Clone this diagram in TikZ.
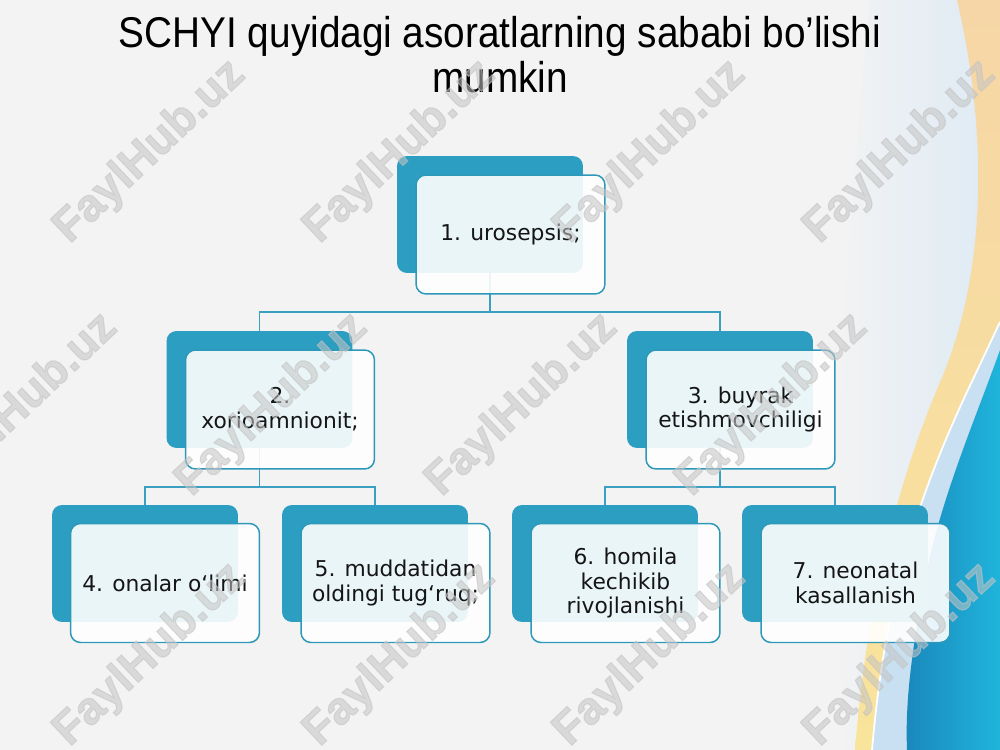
\documentclass[tikz,border=0pt]{standalone}
\usepackage{fontspec}
\setmainfont{DejaVu Sans}
\newfontfamily\titlefont[FakeStretch=0.9]{Liberation Sans}
\newfontfamily\wmfont[BoldFeatures={FakeBold=2.5}]{Liberation Sans}
\definecolor{bgc}{HTML}{F3F3F3}
\definecolor{backc}{HTML}{2C9EC1}
\definecolor{edgec}{HTML}{2E98B9}
\definecolor{linec}{HTML}{3A9FC0}
\definecolor{txtc}{HTML}{151515}
\definecolor{paleblue}{HTML}{DDEAF5}
\definecolor{peach}{HTML}{F6D6A6}
\definecolor{yell}{HTML}{F9E49B}
\definecolor{lband}{HTML}{C8E0F1}
\definecolor{deepblue}{HTML}{1A88BC}
\definecolor{cyanb}{HTML}{20B4DB}
\definecolor{wmc}{HTML}{C4C4C4}
\tikzset{
  backbox/.style={rectangle, rounded corners=0.2cm, fill=backc, draw=none,
    minimum width=3.72cm, minimum height=2.34cm, inner sep=0pt},
  frontbox/.style={rectangle, rounded corners=0.2cm, fill=white, fill opacity=0.9,
    text opacity=1, draw=edgec, line width=0.85pt,
    minimum width=3.78cm, minimum height=2.38cm, inner sep=2pt, align=center,
    text=txtc, font=\fontsize{12.4}{14.2}\selectfont},
  conn/.style={draw=linec, line width=0.7pt},
  wm/.style={rotate=43.4, text=wmc, opacity=0.55,
    font=\wmfont\bfseries\fontsize{26}{26}\selectfont},
  titlestyle/.style={align=center, text=black, inner sep=0pt,
    font=\titlefont\fontsize{24.5}{24.5}\selectfont}
}
\begin{document}
\begin{tikzpicture}[x=0.02cm,y=-0.02cm]
\useasboundingbox (0,0) rectangle (1000,750);
% background
\fill[bgc] (0,0) rectangle (1000,750);
\shade[left color=bgc, right color=paleblue] (870,0) .. controls (845,250) and (830,500) .. (845,750) -- (1000,750) -- (1000,0) -- cycle;
% yellow / peach band
\shade[top color=peach, bottom color=yell]
  (957,0) .. controls (985,120) and (990,260) .. (943,375)
  .. controls (915,440) and (870,560) .. (855,750) -- (872,750)
  .. controls (885,600) and (915,500) .. (975,375)
  .. controls (988,348) .. (1000,322) -- (1000,0) -- cycle;
% light blue band
\fill[lband] (1000,322) .. controls (988,348) .. (975,375)
  .. controls (915,500) and (885,600) .. (872,750) -- (1000,750) -- cycle;
\draw[white, line width=1pt] (1000,322) .. controls (988,348) .. (975,375)
  .. controls (915,500) and (885,600) .. (872,750);
% blue region
\shade[left color=deepblue, right color=cyanb]
  (1000,350) .. controls (975,420) and (940,500) .. (925,580)
  .. controls (912,650) and (905,700) .. (907,750) -- (1000,750) -- cycle;
% title
\node[titlestyle, anchor=base] (title) at (500,92) {SCHYI quyidagi asoratlarning sababi bo’lishi\\[1pt]mumkin};
% back boxes
\node[backbox] (b1) at (490,214.5) {};
\node[backbox] (b2) at (259.5,389.5) {};
\node[backbox] (b3) at (720,389.5) {};
\node[backbox] (b4) at (145,563.5) {};
\node[backbox] (b5) at (375,563.5) {};
\node[backbox] (b6) at (605,563.5) {};
\node[backbox] (b7) at (835,563.5) {};
% connectors
\coordinate (j1) at (490,312);
\coordinate (j2) at (259.5,487);
\coordinate (j3) at (720,487);
\draw[conn] (b1.south) -- (j1) -| (b2.north);
\draw[conn] (j1) -| (b3.north);
\draw[conn] (b2.south) -- (j2) -| (b4.north);
\draw[conn] (j2) -| (b5.north);
\draw[conn] (b3.south) -- (j3) -| (b6.north);
\draw[conn] (j3) -| (b7.north);
% front boxes
\node[frontbox] (f1) at (510.5,234.5) {1. urosepsis;};
\node[frontbox] (f2) at (280,409.5) {2.\\xorioamnionit;};
\node[frontbox] (f3) at (740.5,409.5) {3. buyrak\\etishmovchiligi};
\node[frontbox] (f4) at (165,583) {4. onalar o‘limi};
\node[frontbox] (f5) at (395.5,583) {5. muddatidan\\oldingi tug‘ruq;};
\node[frontbox] (f6) at (625.5,583) {6. homila\\kechikib\\rivojlanishi};
\node[frontbox] (f7) at (855.5,583) {7. neonatal\\kasallanish};
% watermarks
\foreach \x/\y [count=\i] in {150/152,400/152,650/152,900/152,22/405,272/405,522/405,772/405,150/655,400/655,650/655,900/655}
  \node[wm] (wm\i) at (\x,\y) {FaylHub.uz};
\end{tikzpicture}
\end{document}
